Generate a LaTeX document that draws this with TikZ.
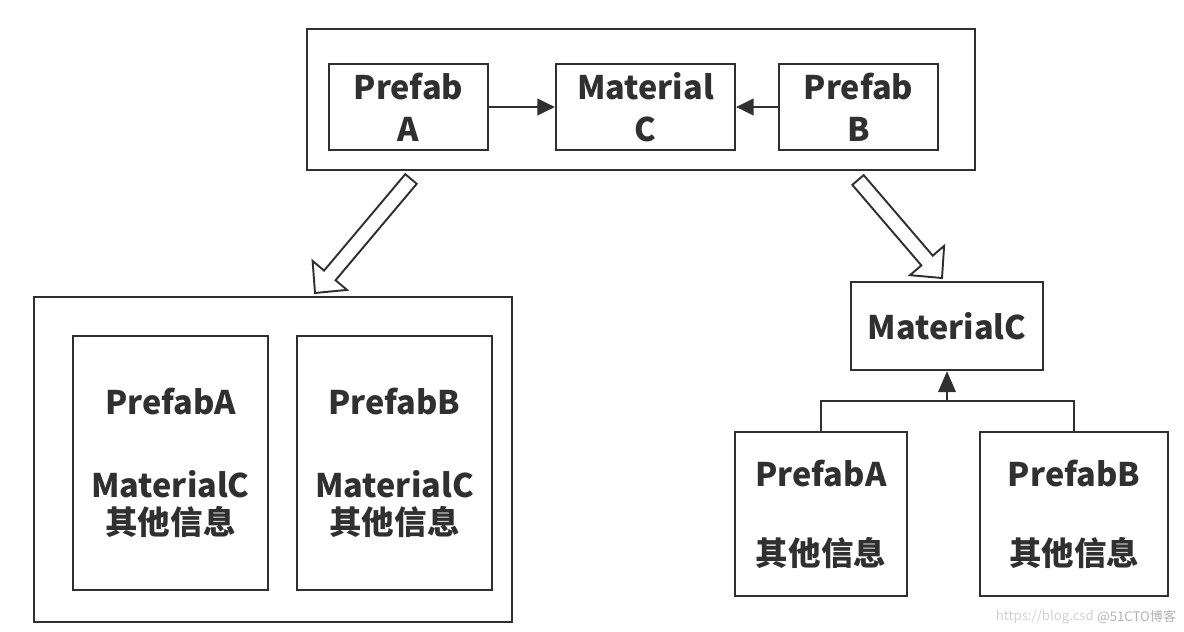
\documentclass[tikz,border=0pt]{standalone}
\usepackage{fontspec}
\setmainfont{Noto Sans CJK SC}
\usetikzlibrary{arrows.meta,calc}
\definecolor{ink}{HTML}{303030}
\tikzset{>={Triangle[length=10pt,width=9.5pt]}}
\tikzset{
  box/.style={draw=ink,line width=1.3pt,align=center,text=ink,inner sep=0pt,
    font=\fontsize{18.5}{21.5}\selectfont\bfseries},
  topbox/.style={box,font=\fontsize{18.5}{24}\selectfont\bfseries},
  frame/.style={draw=ink,line width=1.3pt,inner sep=0pt},
  link/.style={draw=ink,line width=1.3pt},
  hollow/.style={draw=ink,line width=1.1pt,fill=white,line join=miter}
}
\newcommand{\hollowarrow}[2]{%
  \coordinate (hb) at ($(#2)!0.46cm!(#1)$);
  \draw[hollow] ($(#1)!0.15cm!90:(#2)$) -- ($(hb)!0.15cm!-90:(#1)$)
    -- ($(hb)!0.45cm!-90:(#1)$) -- (#2) -- ($(hb)!0.45cm!90:(#1)$)
    -- ($(hb)!0.15cm!90:(#1)$) -- ($(#1)!0.15cm!-90:(#2)$) -- cycle;
}

\begin{document}
\begin{tikzpicture}[x=0.02cm,y=-0.02cm]
  \useasboundingbox (0,0) rectangle (1184,632);

  \node[frame,minimum width=13.36cm,minimum height=2.82cm] (top) at (641,99.5) {};
  \node[topbox,minimum width=3.18cm,minimum height=1.72cm] (pa) at (408.5,107) {Prefab\\A};
  \node[topbox,minimum width=3.58cm,minimum height=1.72cm] (mc) at (645.5,107) {Material\\C};
  \node[topbox,minimum width=3.18cm,minimum height=1.72cm] (pb) at (858.5,107) {Prefab\\B};
  \draw[link,->] (pa) -- (mc);
  \draw[link,->] (pb) -- (mc);

  \node[frame,minimum width=9.56cm,minimum height=6.5cm] (left) at (273,459.5) {};
  \node[box,minimum width=3.9cm,minimum height=5.08cm] (lpa) at (170.5,463)
    {PrefabA\\[25.5pt]MaterialC\\其他信息};
  \node[box,minimum width=3.9cm,minimum height=5.08cm] (lpb) at (394.5,463)
    {PrefabB\\[25.5pt]MaterialC\\其他信息};

  \node[box,minimum width=3.84cm,minimum height=1.76cm] (rmc) at (947,326) {MaterialC};
  \node[box,minimum width=3.44cm,minimum height=3.28cm] (rpa) at (821,514)
    {PrefabA\\[23.5pt]其他信息};
  \node[box,minimum width=3.76cm,minimum height=3.28cm] (rpb) at (1074,514)
    {PrefabB\\[23.5pt]其他信息};
  \coordinate (bus) at (947,401);
  \draw[link] (rpa.north) |- (bus) -| (rpb.north);
  \draw[link,-{Triangle[length=12pt,width=10pt]}] (bus) -- (rmc.south);

  \coordinate (lt) at (411,179);
  \coordinate (lh) at (315,293);
  \coordinate (rt) at (858,180);
  \coordinate (rh) at (942,278);
  \hollowarrow{lt}{lh}
  \hollowarrow{rt}{rh}

  \node[anchor=east,text=black!18,font=\fontsize{7.5}{9}\selectfont] (wm1) at (1100,617) {https://blog.csd};
  \node[anchor=west,text=black!30,font=\fontsize{7.5}{9}\selectfont,inner sep=0pt] (wm2) at (1097,617) {@51CTO博客};
\end{tikzpicture}
\end{document}
